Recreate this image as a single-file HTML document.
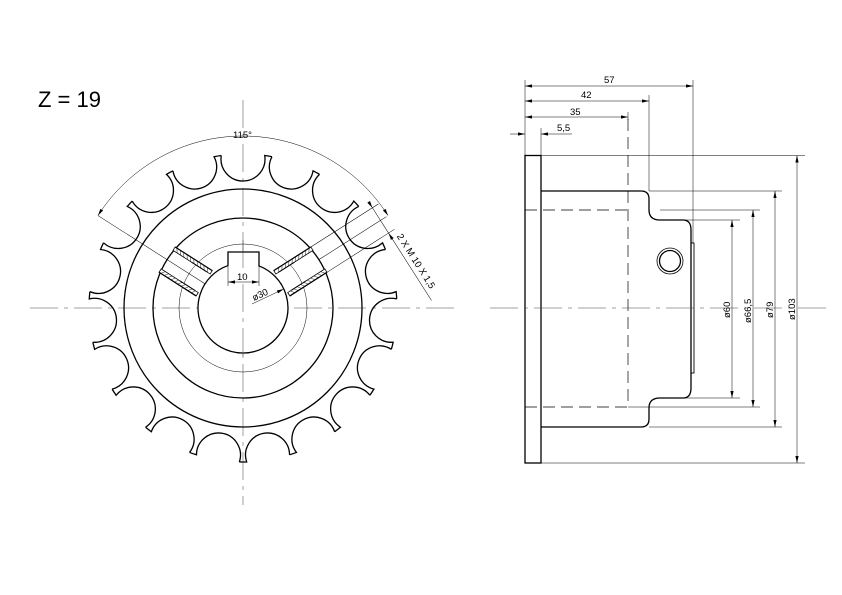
<!DOCTYPE html>
<html><head><meta charset="utf-8"><style>
html,body{margin:0;padding:0;background:#fff;}
svg{display:block;font-family:"Liberation Sans",sans-serif;}
</style></head><body>
<svg width="842" height="595" viewBox="0 0 842 595" xmlns="http://www.w3.org/2000/svg">
<defs>
  <path id="tooth" d="M221.27,155.54 A22,22 0 1 0 264.73,155.54 A154,154 0 0 1 271.95,156.74"/>
  <g id="strip">
    <rect x="46" y="11" width="44" height="4" fill="#fff" stroke="#000" stroke-width="0.8"/>
    <path d="M49,11 L52,15 M53,11 L56,15 M57,11 L60,15 M61,11 L64,15 M65,11 L68,15 M69,11 L72,15 M73,11 L76,15 M77,11 L80,15 M81,11 L84,15 M85,11 L88,15" stroke="#000" stroke-width="0.4"/>
    <path d="M46,15 H90" stroke="#000" stroke-width="1.2"/>
  </g>
  <g id="hole">
    <use href="#strip"/>
    <use href="#strip" transform="scale(1,-1)"/>
    <path d="M50,11 H68 M50,-11 H68" stroke="#000" stroke-width="1"/>
  </g>
</defs>
<rect width="842" height="595" fill="#fff"/>
<text x="38" y="107" font-size="22">Z = 19</text>

<g fill="none" stroke="#000">
  <path d="M30,308 H460 M243,100 V505" stroke-width="0.5" stroke="#444" stroke-dasharray="28,6,4,6"/>
  <g stroke-width="1.3">
    <use href="#tooth"/>
    <use href="#tooth" transform="rotate(18.947 243 308)"/>
    <use href="#tooth" transform="rotate(37.895 243 308)"/>
    <use href="#tooth" transform="rotate(56.842 243 308)"/>
    <use href="#tooth" transform="rotate(75.789 243 308)"/>
    <use href="#tooth" transform="rotate(94.737 243 308)"/>
    <use href="#tooth" transform="rotate(113.684 243 308)"/>
    <use href="#tooth" transform="rotate(132.632 243 308)"/>
    <use href="#tooth" transform="rotate(151.579 243 308)"/>
    <use href="#tooth" transform="rotate(170.526 243 308)"/>
    <use href="#tooth" transform="rotate(189.474 243 308)"/>
    <use href="#tooth" transform="rotate(208.421 243 308)"/>
    <use href="#tooth" transform="rotate(227.368 243 308)"/>
    <use href="#tooth" transform="rotate(246.316 243 308)"/>
    <use href="#tooth" transform="rotate(265.263 243 308)"/>
    <use href="#tooth" transform="rotate(284.211 243 308)"/>
    <use href="#tooth" transform="rotate(303.158 243 308)"/>
    <use href="#tooth" transform="rotate(322.105 243 308)"/>
    <use href="#tooth" transform="rotate(341.053 243 308)"/>
  </g>
  <circle cx="243" cy="308" r="119" stroke-width="1.3"/>
  <circle cx="243" cy="308" r="90" stroke-width="1.3"/>
  <circle cx="243" cy="308" r="64" stroke-width="0.5"/>

  <!-- right hole -->
  <g transform="translate(243,308) rotate(-32.5)">
    <use href="#hole"/>
    <path d="M90,-15 H170 M90,0 H170 M90,15 H170 M20,0 H46 M163,-22 V95" stroke-width="0.5"/>
    <polygon points="163,-15 161.4,-22 164.6,-22" fill="#000" stroke="none"/>
    <polygon points="163,15 161.4,22 164.6,22" fill="#000" stroke="none"/>
    <text x="168" y="22" font-size="9.5" fill="#000" stroke="none" transform="rotate(90 168 22)">2 X M 10 X 1,5</text>
  </g>
  <!-- left hole -->
  <g transform="translate(243,308) rotate(-147.5)">
    <use href="#hole"/>
    <path d="M20,0 H172" stroke-width="0.5"/>
  </g>

  <!-- bore with keyway -->
  <path d="M228,265.57 V252 H259 V265.94 A45,45 0 1 1 228,265.57" stroke-width="1.3" fill="#fff"/>
  <path d="M243,240 V360" stroke-width="0.5" stroke="#444" stroke-dasharray="28,6,4,6"/>

  <!-- 115 arc -->
  <path d="M97.94,215.59 A172,172 0 0 1 388.06,215.59" stroke-width="0.5"/>
  <polygon points="97.94,215.59 100.35,208.83 103.05,210.55" fill="#000" stroke="none"/>
  <polygon points="388.06,215.59 385.65,208.83 382.95,210.55" fill="#000" stroke="none"/>
  <text x="233" y="138" font-size="9.5" fill="#000" stroke="none">115°</text>

  <!-- key width -->
  <path d="M228,282 H259 M228,252 V286 M259,252 V286" stroke-width="0.5"/>
  <polygon points="228,282 235,280.4 235,283.6" fill="#000" stroke="none"/>
  <polygon points="259,282 252,280.4 252,283.6" fill="#000" stroke="none"/>
  <text x="237" y="280" font-size="9.5" fill="#000" stroke="none">10</text>

  <!-- dia 30 -->
  <path d="M252,304 L283.78,288.98" stroke-width="0.5"/>
  <polygon points="283.78,288.98 278.12,293.39 276.76,290.49" fill="#000" stroke="none"/>
  <text x="254" y="301" font-size="9.5" fill="#000" stroke="none" transform="rotate(-25 254 301)">ø30</text>
</g>

<g fill="none" stroke="#000">
  <rect x="525" y="155.5" width="16" height="307.5" stroke-width="1.3"/>
  <path d="M541,191 H641 Q649,191 649,199 V210 Q649,220 660,220 H683 Q691,220 691,230 V388 Q691,398 683,398 H660 Q649,398 649,408 V419 Q649,427 641,427 H541" stroke-width="1.3"/>
  <rect x="691" y="243" width="3" height="130" stroke-width="0.9"/>
  <circle cx="670" cy="261" r="13" stroke-width="0.8"/>
  <circle cx="670" cy="261" r="10.5" stroke-width="1.3"/>
  <path d="M525,210 H628 M525,407 H628 M628,119 V407" stroke-width="0.7" stroke-dasharray="12,6"/>
  <path d="M490,308 H830" stroke-width="0.5" stroke="#444" stroke-dasharray="28,6,4,6"/>
  <g stroke-width="0.5">
    <path d="M525,80 V155 M541,128 V155 M628,112 V120 M649,95 V191 M693,80 V243"/>
    <path d="M541,155.5 H805 M541,463 H805 M649,191 H782 M649,427 H782 M660,210 H760 M628,407 H760 M683,220 H740 M683,398 H740"/>
    <path d="M525,86 H693 M525,101 H649 M525,117 H628 M510,134 H525 M541,134 H572"/>
    <path d="M732,220 V398 M753,210 V407 M775,191 V427 M797,155.5 V463"/>
  </g>
  <g fill="#000" stroke="none">
    <polygon points="525,86 532,84.4 532,87.6"/><polygon points="693,86 686,84.4 686,87.6"/>
    <polygon points="525,101 532,99.4 532,102.6"/><polygon points="649,101 642,99.4 642,102.6"/>
    <polygon points="525,117 532,115.4 532,118.6"/><polygon points="628,117 621,115.4 621,118.6"/>
    <polygon points="525,134 518,132.4 518,135.6"/><polygon points="541,134 548,132.4 548,135.6"/>
    <polygon points="732,220 730.4,227 733.6,227"/><polygon points="732,398 730.4,391 733.6,391"/>
    <polygon points="753,210 751.4,217 754.6,217"/><polygon points="753,407 751.4,400 754.6,400"/>
    <polygon points="775,191 773.4,198 776.6,198"/><polygon points="775,427 773.4,420 776.6,420"/>
    <polygon points="797,155.5 795.4,162.5 798.6,162.5"/><polygon points="797,463 795.4,456 798.6,456"/>
  </g>
  <g font-size="9.5" fill="#000" stroke="none">
    <text x="604" y="83">57</text>
    <text x="581" y="98">42</text>
    <text x="570" y="115">35</text>
    <text x="557" y="131">5,5</text>
    <text transform="translate(730,318) rotate(-90)">ø60</text>
    <text transform="translate(751,323) rotate(-90)">ø66,5</text>
    <text transform="translate(773,318) rotate(-90)">ø79</text>
    <text transform="translate(795,320) rotate(-90)">ø103</text>
  </g>
</g>
</svg>
</body></html>
